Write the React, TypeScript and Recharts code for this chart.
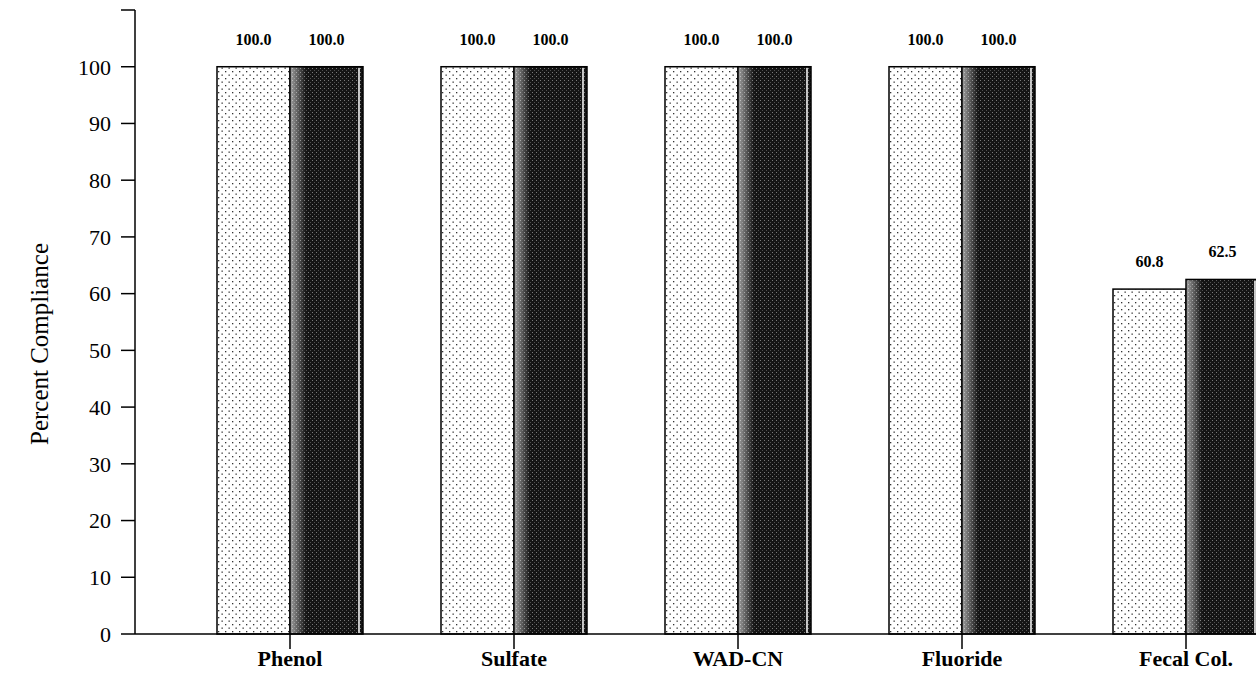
import React from "react";
import { BarChart, Bar, XAxis, YAxis, LabelList } from "recharts";

const categories = ["Phenol", "Sulfate", "WAD-CN", "Fluoride", "Fecal Col."];
const lightValues = [100.0, 100.0, 100.0, 100.0, 60.8];
const darkValues = [100.0, 100.0, 100.0, 100.0, 62.5];
const yTicks = [0, 10, 20, 30, 40, 50, 60, 70, 80, 90, 100, 110];

const data = categories.map((name, i) => ({
    name,
    light: lightValues[i],
    dark: darkValues[i],
}));

const FONT = '"Liberation Serif", "Times New Roman", serif';

function LightBar(props: any) {
    const { x, y, width, height } = props;
    if (!height || height <= 0) return null;
    return (
        <g>
            <rect x={x} y={y} width={width} height={height} fill="url(#lightDots)" />
            <rect x={x} y={y} width={width} height={height} fill="none" stroke="#000" strokeWidth={1.5} />
        </g>
    );
}

function DarkBar(props: any) {
    const { x, y, width, height } = props;
    if (!height || height <= 0) return null;
    return (
        <g>
            <rect x={x} y={y} width={width} height={height} fill="url(#darkDots)" />
            <rect x={x} y={y} width={width * 0.22} height={height} fill="url(#darkFade)" />
            <line x1={x + width - 4} x2={x + width - 4} y1={y + 1} y2={y + height} stroke="#fff" strokeWidth={1.5} />
            <rect x={x} y={y} width={width} height={height} fill="none" stroke="#000" strokeWidth={1.5} />
        </g>
    );
}

const labelStyle = { fontFamily: FONT, fontSize: 16, fontWeight: 700, fill: "#000" };

export default function App() {
    return (
        <div
            style={{
                position: "absolute",
                left: 0,
                top: 0,
                width: 1256,
                height: 680,
                overflow: "hidden",
                background: "#fff",
            }}
        >
            <BarChart
                width={1298}
                height={680}
                data={data}
                margin={{ top: 10, right: 0, left: 0, bottom: 0 }}
                barCategoryGap={39}
                barGap={0}
            >
                <defs>
                    <pattern id="lightDots" width="7" height="7" patternUnits="userSpaceOnUse">
                        <rect width="7" height="7" fill="#fff" />
                        <rect x="1" y="1" width="1.3" height="1.3" fill="#333" />
                        <rect x="4.5" y="4.5" width="1.3" height="1.3" fill="#333" />
                    </pattern>
                    <pattern id="darkDots" width="4" height="4" patternUnits="userSpaceOnUse">
                        <rect width="4" height="4" fill="#151515" />
                        <rect x="0" y="0" width="1" height="1" fill="#7a7a7a" />
                        <rect x="2" y="2" width="1" height="1" fill="#505050" />
                    </pattern>
                    <linearGradient id="darkFade" x1="0" y1="0" x2="1" y2="0">
                        <stop offset="0%" stopColor="#fff" stopOpacity={0.6} />
                        <stop offset="100%" stopColor="#fff" stopOpacity={0} />
                    </linearGradient>
                </defs>
                <XAxis
                    dataKey="name"
                    height={46}
                    padding={{ left: 43, right: 0 }}
                    stroke="#000"
                    strokeWidth={1.5}
                    tickSize={15}
                    tickMargin={1}
                    tick={{ fontFamily: FONT, fontSize: 22, fontWeight: 700, fill: "#000" }}
                />
                <YAxis
                    width={135}
                    domain={[0, 110]}
                    ticks={yTicks}
                    interval={0}
                    stroke="#000"
                    strokeWidth={1.5}
                    tickSize={14}
                    tickMargin={10}
                    tickFormatter={(v: number) => (v === 110 ? "" : String(v))}
                    tick={{ fontFamily: FONT, fontSize: 22, fill: "#000" }}
                />
                <Bar dataKey="light" shape={<LightBar />} isAnimationActive={false}>
                    <LabelList
                        dataKey="light"
                        position="top"
                        offset={22}
                        formatter={(v: any) => Number(v).toFixed(1)}
                        style={labelStyle}
                    />
                </Bar>
                <Bar dataKey="dark" shape={<DarkBar />} isAnimationActive={false}>
                    <LabelList
                        dataKey="dark"
                        position="top"
                        offset={22}
                        formatter={(v: any) => Number(v).toFixed(1)}
                        style={labelStyle}
                    />
                </Bar>
            </BarChart>
            <div
                style={{
                    position: "absolute",
                    left: 40 - 150,
                    top: 344 - 15,
                    width: 300,
                    height: 30,
                    lineHeight: "30px",
                    textAlign: "center",
                    transform: "rotate(-90deg)",
                    fontFamily: FONT,
                    fontSize: 25,
                    color: "#000",
                }}
            >
                Percent Compliance
            </div>
        </div>
    );
}
